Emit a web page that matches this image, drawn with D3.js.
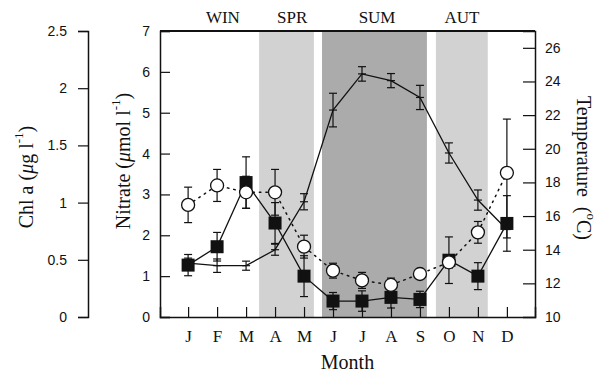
<!DOCTYPE html>
<html lang="en">
<head>
<meta charset="UTF-8">
<script src="https://cdnjs.cloudflare.com/ajax/libs/d3/7.8.5/d3.min.js"></script>
<style>
  body { margin: 0; background: #fff; }
  svg text { fill: #111; }
  .serif { font-family: "Liberation Serif", "DejaVu Serif", serif; }
  .sans { font-family: "Liberation Sans", Arial, sans-serif; }
</style>
</head>
<body>
<div id="chart"></div>
<script>
/* monthly data */
var months = ["J", "F", "M", "A", "M", "J", "J", "A", "S", "O", "N", "D"];
var temp = [13.2, 13.05, 13.05, 14.0, 16.85, 22.3, 24.45, 24.05, 23.05, 19.75, 16.95, 15.2];
var tempErr = [0.3, 0.4, 0.27, 0.33, 0.48, 1.0, 0.43, 0.42, 0.72, 0.6, 0.6, 0.5];
var nitrate = [1.27, 1.72, 3.29, 2.3, 1.0, 0.39, 0.39, 0.48, 0.43, 1.39, 1.0, 2.29];
var nitrateErr = [0.26, 0.35, 0.63, 0.5, 0.5, 0.21, 0.25, 0.26, 0.2, 0.57, 0.33, 0.68];
var chl = [0.98, 1.15, 1.09, 1.09, 0.615, 0.405, 0.32, 0.28, 0.376, 0.478, 0.74, 1.26];
var chlErr = [0.155, 0.14, 0.14, 0.2, 0.1, 0.065, 0.07, 0.06, 0.03, 0.05, 0.095, 0.47];

/* seasons (month index units) */
var seasonNames = ["WIN", "SPR", "SUM", "AUT"];
var seasonLabelAt = [1.2, 3.59, 6.52, 9.45];
var bandStart = [null, 2.45, 4.62, 8.55];
var bandEnd = [null, 4.34, 8.24, 10.34];
var bandShade = [null, "#d2d2d2", "#ababab", "#d2d2d2"];

/* axis ticks */
var nitrateTicks = [0, 1, 2, 3, 4, 5, 6, 7];
var chlTicks = [0, 0.5, 1, 1.5, 2, 2.5];
var tempTicks = [10, 12, 14, 16, 18, 20, 22, 24, 26];

var W = 600, H = 375;
var pL = 160, pR = 535, pT = 31, pB = 317;

var svg = d3.select("#chart").append("svg")
  .attr("width", W).attr("height", H);

var x = d3.scaleLinear().domain([-0.97, 11.97]).range([pL, pR]);
var yN = d3.scaleLinear().domain([0, 7]).range([pB, pT]);
var yC = d3.scaleLinear().domain([0, 2.5]).range([pB, pT]);
var yT = d3.scaleLinear().domain([10, 27]).range([pB, pT]);

var idx = d3.range(months.length);

/* season bands */
svg.append("g").selectAll("rect")
  .data(d3.range(seasonNames.length).filter(function(i) { return bandStart[i] !== null; }))
  .enter().append("rect")
  .attr("x", function(i) { return x(bandStart[i]); })
  .attr("y", pT)
  .attr("width", function(i) { return x(bandEnd[i]) - x(bandStart[i]); })
  .attr("height", pB - pT)
  .attr("fill", function(i) { return bandShade[i]; });

svg.append("g").selectAll("text")
  .data(seasonNames)
  .enter().append("text")
  .attr("class", "serif")
  .attr("x", function(d, i) { return x(seasonLabelAt[i]); })
  .attr("y", 23)
  .attr("text-anchor", "middle")
  .attr("font-size", "17px")
  .text(function(d) { return d; });

/* axes */
svg.append("g")
  .attr("transform", "translate(" + pL + ",0)")
  .call(d3.axisRight(yN).tickValues(nitrateTicks).tickSize(10).tickFormat(""));
var axisNLab = svg.append("g")
  .attr("transform", "translate(" + pL + ",0)")
  .call(d3.axisLeft(yN).tickValues(nitrateTicks).tickSize(0).tickPadding(10).tickFormat(d3.format("d")));
axisNLab.select(".domain").remove();

var axisC = svg.append("g")
  .attr("transform", "translate(88,0)")
  .call(d3.axisLeft(yC).tickValues(chlTicks).tickSize(10).tickPadding(11)
    .tickFormat(function(d) { return d3.format("")(d); }));

svg.append("g")
  .attr("transform", "translate(" + pR + ",0)")
  .call(d3.axisLeft(yT).tickValues(tempTicks.slice(1)).tickSize(12).tickFormat(""));
var axisTLab = svg.append("g")
  .attr("transform", "translate(" + pR + ",0)")
  .call(d3.axisRight(yT).tickValues(tempTicks).tickSize(0).tickPadding(10).tickFormat(d3.format("d")));
axisTLab.select(".domain").remove();

svg.append("g")
  .attr("transform", "translate(0," + pB + ")")
  .call(d3.axisTop(x).tickValues(idx).tickSize(10).tickFormat(""));
var axisXLab = svg.append("g")
  .attr("transform", "translate(0," + pB + ")")
  .call(d3.axisBottom(x).tickValues(idx).tickSize(0).tickPadding(13)
    .tickFormat(function(i) { return months[i]; }));
axisXLab.select(".domain").remove();

svg.selectAll(".domain").attr("stroke", "#111").attr("stroke-width", 1.5);
svg.selectAll(".tick line").attr("stroke", "#111").attr("stroke-width", 1.2);
[axisNLab, axisC, axisTLab].forEach(function(g) {
  g.selectAll("text").attr("class", "sans").attr("font-size", "14px").attr("fill", "#111");
});
axisXLab.selectAll("text").attr("class", "serif").attr("font-size", "17px").attr("fill", "#111");

/* top frame line */
svg.append("line")
  .attr("x1", pL).attr("x2", pR)
  .attr("y1", pT).attr("y2", pT)
  .attr("stroke", "#111").attr("stroke-width", 2.2);

/* error bars helper */
function errorBars(vals, errs, y, cap, crossTick) {
  var g = svg.append("g").attr("stroke", "#111").attr("stroke-width", 1.2);
  idx.forEach(function(i) {
    var cx = x(i), hi = y(vals[i] + errs[i]), lo = y(vals[i] - errs[i]);
    g.append("line").attr("x1", cx).attr("x2", cx).attr("y1", hi).attr("y2", lo);
    g.append("line").attr("x1", cx - cap).attr("x2", cx + cap).attr("y1", hi).attr("y2", hi);
    g.append("line").attr("x1", cx - cap).attr("x2", cx + cap).attr("y1", lo).attr("y2", lo);
    if (crossTick) {
      var cy = y(vals[i]);
      g.append("line").attr("x1", cx - cap).attr("x2", cx + cap).attr("y1", cy).attr("y2", cy);
    }
  });
}

/* temperature */
var lineT = d3.line().x(function(i) { return x(i); }).y(function(i) { return yT(temp[i]); });
svg.append("path").datum(idx).attr("d", lineT)
  .attr("fill", "none").attr("stroke", "#111").attr("stroke-width", 1.3);
errorBars(temp, tempErr, yT, 4, true);

/* nitrate */
var lineN = d3.line().x(function(i) { return x(i); }).y(function(i) { return yN(nitrate[i]); });
svg.append("path").datum(idx).attr("d", lineN)
  .attr("fill", "none").attr("stroke", "#111").attr("stroke-width", 1.3);
errorBars(nitrate, nitrateErr, yN, 4, false);
svg.append("g").selectAll("rect")
  .data(idx).enter().append("rect")
  .attr("x", function(i) { return x(i) - 6.5; })
  .attr("y", function(i) { return yN(nitrate[i]) - 6.5; })
  .attr("width", 13).attr("height", 13)
  .attr("fill", "#111");

/* chl a */
var lineC = d3.line().x(function(i) { return x(i); }).y(function(i) { return yC(chl[i]); });
svg.append("path").datum(idx).attr("d", lineC)
  .attr("fill", "none").attr("stroke", "#111").attr("stroke-width", 1.5)
  .attr("stroke-dasharray", "1.5,5").attr("stroke-linecap", "round");
errorBars(chl, chlErr, yC, 4, false);
svg.append("g").selectAll("circle")
  .data(idx).enter().append("circle")
  .attr("cx", function(i) { return x(i); })
  .attr("cy", function(i) { return yC(chl[i]); })
  .attr("r", 6.5)
  .attr("fill", "#fff").attr("stroke", "#111").attr("stroke-width", 1.3);

/* titles */
var tChl = svg.append("text").attr("class", "serif").attr("font-size", "20px")
  .attr("text-anchor", "middle").attr("dominant-baseline", "central")
  .attr("transform", "translate(26,177) rotate(-90)");
tChl.append("tspan").text("Chl a (");
tChl.append("tspan").attr("font-style", "italic").text("\u03bc");
tChl.append("tspan").text("g l");
tChl.append("tspan").attr("font-size", "13px").attr("baseline-shift", "super").text("-1");
tChl.append("tspan").text(")");

var tN = svg.append("text").attr("class", "serif").attr("font-size", "20px")
  .attr("text-anchor", "middle").attr("dominant-baseline", "central")
  .attr("transform", "translate(123,161) rotate(-90)");
tN.append("tspan").text("Nitrate (");
tN.append("tspan").attr("font-style", "italic").text("\u03bc");
tN.append("tspan").text("mol l");
tN.append("tspan").attr("font-size", "13px").attr("baseline-shift", "super").text("-1");
tN.append("tspan").text(")");

var tT = svg.append("text").attr("class", "serif").attr("font-size", "20px")
  .attr("text-anchor", "middle").attr("dominant-baseline", "central")
  .attr("transform", "translate(584,168) rotate(90)");
tT.append("tspan").text("Temperature\u00a0\u00a0(");
tT.append("tspan").attr("font-size", "13px").attr("baseline-shift", "super").text("o");
tT.append("tspan").text("C)");

svg.append("text").attr("class", "serif").attr("font-size", "20px")
  .attr("text-anchor", "middle")
  .attr("x", (pL + pR) / 2).attr("y", 369)
  .text("Month");
</script>
</body>
</html>
